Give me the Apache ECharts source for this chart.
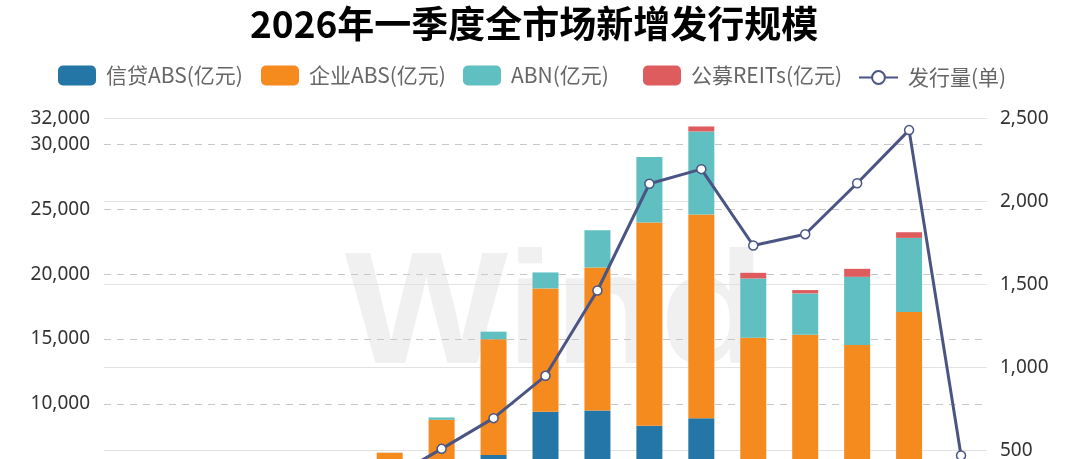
<!DOCTYPE html>
<html>
<head>
<meta charset="utf-8">
<script src="https://cdn.jsdelivr.net/npm/echarts@6/dist/echarts.min.js"></script>
<style>
html,body{margin:0;padding:0;width:1080px;height:459px;overflow:hidden;background:#fff;}
#c{width:1080px;height:600px;}
</style>
</head>
<body>
<div id="c"></div>
<script>
const categories = ['2010','2011','2012','2013','2014','2015','2016','2017','2018','2019','2020','2021','2022','2023','2024','2025','2026Q1'];
const creditABS = [0, 13, 193, 158, 2820, 4056, 3909, 6050, 9385, 9487, 8308, 8896, 3900, 3500, 2700, 2900, 700];
const corpABS   = [0, 0, 0, 113, 400, 2170, 4860, 8926, 9515, 11028, 15667, 15694, 11200, 11830, 11838, 14177, 1900];
const abn       = [0, 0, 57, 0, 11, 10, 177, 587, 1230, 2870, 5048, 6410, 4567, 3185, 5255, 5715, 1100];
const reits     = [0, 0, 0, 0, 0, 0, 0, 0, 0, 0, 0, 385, 433, 255, 615, 438, 90];
const issueCount = [0, 2, 20, 15, 90, 330, 510, 695, 950, 1464, 2107, 2195, 1735, 1803, 2110, 2430, 470];
const seriesNames = ['信贷ABS(亿元)','企业ABS(亿元)','ABN(亿元)','公募REITs(亿元)','发行量(单)'];
const titleText = '2026年一季度全市场新增发行规模';

const chart = echarts.init(document.getElementById('c'), null, {renderer:'canvas'});
const fmt = v => Number(v).toLocaleString('en-US');
const barColors = ['#2376a5','#f58a1e','#60bfc0','#df5c5e'];
const barData = [creditABS, corpABS, abn, reits];

const series = barData.map((d,i)=>({
  name: seriesNames[i], type:'bar', stack:'total', yAxisIndex:0,
  barWidth:26, data:d, itemStyle:{color:barColors[i]}, z:2
}));
series.push({
  name: seriesNames[4], type:'line', yAxisIndex:1, data:issueCount,
  symbol:'circle', symbolSize:9, showAllSymbol:true,
  lineStyle:{color:'#4a5584', width:3},
  itemStyle:{color:'#ffffff', borderColor:'#4a5584', borderWidth:1.5},
  z:5
});

const legendLefts = [53, 256, 458, 638, 853];
const legends = seriesNames.map((n,i)=>({
  top: i===4 ? 62 : 60, left: legendLefts[i],
  itemWidth: i===4 ? 39 : 38, itemHeight: i===4 ? 16 : 20,
  data:[n],
  formatter: s => '{a|' + s + '}',
  textStyle:{fontFamily:'"Noto Sans CJK SC"', fontSize:21, color:'#666',
    rich:{a:{fontFamily:'"Noto Sans CJK SC"', fontSize:21, color:'#666', padding:[0,0,0,5]}}}
}));

chart.setOption({
  animation:false,
  backgroundColor:'#fff',
  title:{text:titleText, left:245, top:0,
    textStyle:{fontFamily:'"Noto Sans CJK SC"', fontSize:37, fontWeight:'bold', color:'#000'}},
  legend: legends,
  graphic:[{type:'text', x:555, y:319, z:-10, silent:true, scaleX:1.08, originX:0, originY:0,
    style:{text:'Wind', textAlign:'center', textVerticalAlign:'middle',
      font:'bold 160px "Liberation Sans"', fill:'#f0f0f0'}}],
  grid:{left:104, right:93, top:118.5, height:415},
  xAxis:{type:'category', data:categories, axisTick:{show:false},
    axisLine:{lineStyle:{color:'#ccc'}}, axisLabel:{color:'#333', fontSize:18}},
  yAxis:[
    {type:'value', min:0, max:32000, interval:5000,
     axisLine:{show:false}, axisTick:{show:false},
     axisLabel:{formatter:fmt, color:'#333', fontSize:19, fontFamily:'"Noto Sans"', margin:14},
     splitLine:{show:true, lineStyle:{color:'#c8c8c8', type:[7,6], width:1}}},
    {type:'value', min:0, max:2500, interval:500, position:'right',
     axisLine:{show:false}, axisTick:{show:false},
     axisLabel:{formatter:fmt, color:'#333', fontSize:19, fontFamily:'"Noto Sans"', margin:13},
     splitLine:{show:true, lineStyle:{color:'#e2e2e2', type:'solid', width:1}}}
  ],
  series:series
});
</script>
</body>
</html>
